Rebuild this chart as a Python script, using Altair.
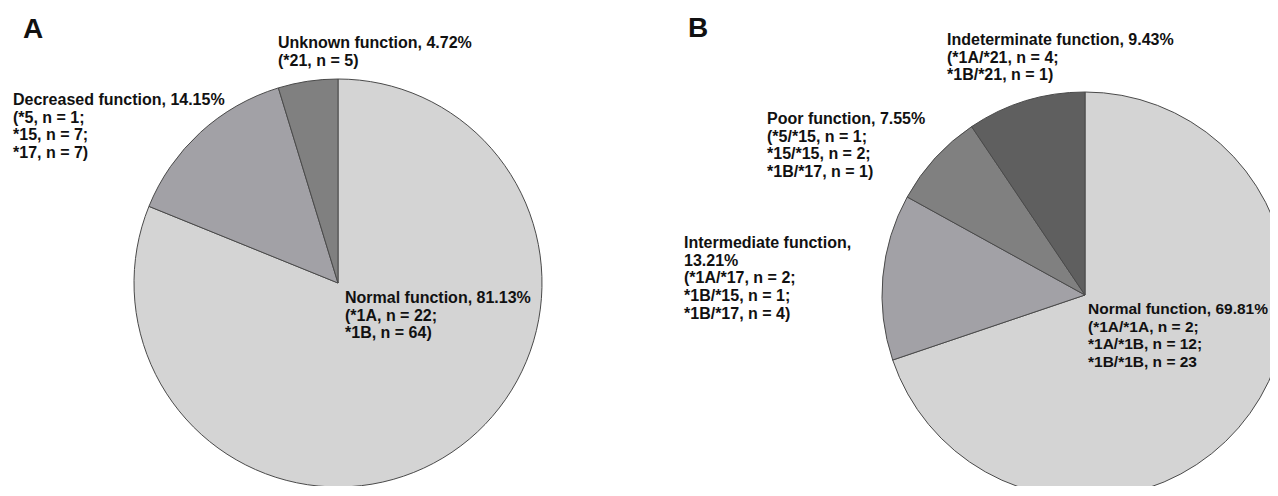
import altair as alt
import pandas as pd

# ---- data ----
cats_a = ["Normal function", "Decreased function", "Unknown function"]
pct_a = [81.13, 14.15, 4.72]

cats_b = ["Normal function", "Intermediate function", "Poor function", "Indeterminate function"]
pct_b = [69.81, 13.21, 7.55, 9.43]

label_a_normal = ["Normal function, 81.13%", "(*1A, n = 22;", "*1B, n = 64)"]
label_a_decreased = ["Decreased function, 14.15%", "(*5, n = 1;", "*15, n = 7;", "*17, n = 7)"]
label_a_unknown = ["Unknown function, 4.72%", "(*21, n = 5)"]

label_b_normal = ["Normal function, 69.81%", "(*1A/*1A, n = 2;", "*1A/*1B, n = 12;", "*1B/*1B, n = 23"]
label_b_intermediate = ["Intermediate function,", "13.21%", "(*1A/*17, n = 2;", "*1B/*15, n = 1;", "*1B/*17, n = 4)"]
label_b_poor = ["Poor function, 7.55%", "(*5/*15, n = 1;", "*15/*15, n = 2;", "*1B/*17, n = 1)"]
label_b_indet = ["Indeterminate  function, 9.43%", "(*1A/*21, n = 4;", "*1B/*21, n = 1)"]

panel_letters = ["A", "B"]

# ---- styling ----
shade_domain = ["Normal function", "Decreased function", "Unknown function",
                "Intermediate function", "Poor function", "Indeterminate function"]
shade_range = ["#d4d4d4", "#a2a1a6", "#808080", "#a2a1a6", "#808080", "#5f5f5f"]
FONT = "Liberation Sans"

df_a = pd.DataFrame({"category": cats_a, "pct": pct_a, "order": list(range(len(cats_a)))})
df_b = pd.DataFrame({"category": cats_b, "pct": pct_b, "order": list(range(len(cats_b)))})

color = alt.Color("category:N", scale=alt.Scale(domain=shade_domain, range=shade_range), legend=None)


def pie(df, cx, cy, r):
    return alt.Chart(df).mark_arc(outerRadius=r, stroke="#4a4a4a", strokeWidth=1).encode(
        theta=alt.Theta("pct:Q", stack=True),
        order=alt.Order("order:Q"),
        color=color,
        x=alt.value(cx),
        y=alt.value(cy),
    )


def label(lines, x, y, size=16):
    d = pd.DataFrame({"t": ["\n".join(lines)]})
    return alt.Chart(d).mark_text(
        align="left", baseline="alphabetic", font=FONT, fontWeight="bold",
        fontSize=size, lineBreak="\n", lineHeight=17.7, color="#111111",
    ).encode(text="t:N", x=alt.value(x), y=alt.value(y))


layers = [
    pie(df_a, 330, 275, 204),
    pie(df_b, 1077, 287, 203),
    label(label_a_normal, 337, 295),
    label(label_a_decreased, 5, 97),
    label(label_a_unknown, 270, 40),
    label(label_b_normal, 1080, 306, 15.5),
    label(label_b_intermediate, 676, 240),
    label(label_b_poor, 759, 116),
    label(label_b_indet, 939, 37),
    label([panel_letters[0]], 15, 30, 28),
    label([panel_letters[1]], 680, 29, 28),
]

chart = alt.layer(*layers).resolve_scale(theta="independent").properties(
    width=1262, height=478, padding=0,
    autosize=alt.AutoSizeParams(type="none"),
).configure_view(stroke=None, strokeWidth=0, fill=None)

chart.save("out.html", embed_options={"renderer": "svg", "actions": False})
